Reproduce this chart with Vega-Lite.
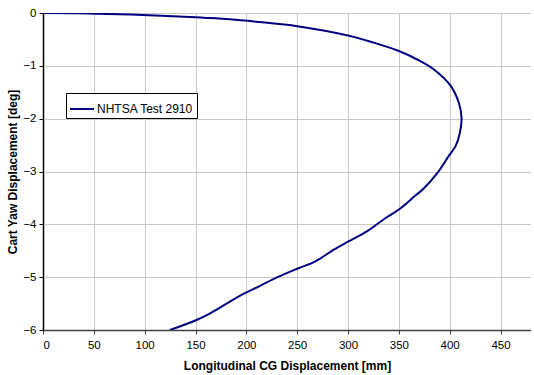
{
  "$schema": "https://vega.github.io/schema/vega-lite/v6.json",
  "width": 488,
  "height": 317,
  "autosize": "none",
  "padding": {"left": 43, "top": 13, "right": 0, "bottom": 45},
  "background": "white",
  "config": {
    "font": "Liberation Sans",
    "view": {"stroke": "#a0a0a0", "strokeWidth": 1}
  },
  "data": {
    "values": [
      {"i": 1, "x": 0, "y": 0, "s": "NHTSA Test 2910"},
      {"i": 2, "x": 35, "y": -0.005, "s": "NHTSA Test 2910"},
      {"i": 3, "x": 86, "y": -0.03, "s": "NHTSA Test 2910"},
      {"i": 4, "x": 128, "y": -0.06, "s": "NHTSA Test 2910"},
      {"i": 5, "x": 158, "y": -0.09, "s": "NHTSA Test 2910"},
      {"i": 6, "x": 184, "y": -0.12, "s": "NHTSA Test 2910"},
      {"i": 7, "x": 212, "y": -0.17, "s": "NHTSA Test 2910"},
      {"i": 8, "x": 250, "y": -0.25, "s": "NHTSA Test 2910"},
      {"i": 9, "x": 301, "y": -0.43, "s": "NHTSA Test 2910"},
      {"i": 10, "x": 325, "y": -0.56, "s": "NHTSA Test 2910"},
      {"i": 11, "x": 350, "y": -0.72, "s": "NHTSA Test 2910"},
      {"i": 12, "x": 368, "y": -0.88, "s": "NHTSA Test 2910"},
      {"i": 13, "x": 384.5, "y": -1.07, "s": "NHTSA Test 2910"},
      {"i": 14, "x": 401, "y": -1.38, "s": "NHTSA Test 2910"},
      {"i": 15, "x": 409, "y": -1.7, "s": "NHTSA Test 2910"},
      {"i": 16, "x": 411.7, "y": -1.99, "s": "NHTSA Test 2910"},
      {"i": 17, "x": 410, "y": -2.27, "s": "NHTSA Test 2910"},
      {"i": 18, "x": 405.8, "y": -2.52, "s": "NHTSA Test 2910"},
      {"i": 19, "x": 399, "y": -2.71, "s": "NHTSA Test 2910"},
      {"i": 20, "x": 387.8, "y": -3.03, "s": "NHTSA Test 2910"},
      {"i": 21, "x": 374, "y": -3.33, "s": "NHTSA Test 2910"},
      {"i": 22, "x": 366, "y": -3.46, "s": "NHTSA Test 2910"},
      {"i": 23, "x": 350, "y": -3.72, "s": "NHTSA Test 2910"},
      {"i": 24, "x": 337, "y": -3.88, "s": "NHTSA Test 2910"},
      {"i": 25, "x": 319, "y": -4.13, "s": "NHTSA Test 2910"},
      {"i": 26, "x": 301, "y": -4.32, "s": "NHTSA Test 2910"},
      {"i": 27, "x": 286, "y": -4.48, "s": "NHTSA Test 2910"},
      {"i": 28, "x": 268, "y": -4.7, "s": "NHTSA Test 2910"},
      {"i": 29, "x": 250, "y": -4.84, "s": "NHTSA Test 2910"},
      {"i": 30, "x": 230.6, "y": -5.0, "s": "NHTSA Test 2910"},
      {"i": 31, "x": 214, "y": -5.16, "s": "NHTSA Test 2910"},
      {"i": 32, "x": 194, "y": -5.35, "s": "NHTSA Test 2910"},
      {"i": 33, "x": 164, "y": -5.69, "s": "NHTSA Test 2910"},
      {"i": 34, "x": 151, "y": -5.81, "s": "NHTSA Test 2910"},
      {"i": 35, "x": 125, "y": -6.0, "s": "NHTSA Test 2910"}
    ]
  },
  "mark": {"type": "line", "strokeWidth": 2, "clip": true, "interpolate": "catmull-rom"},
  "encoding": {
    "x": {
      "field": "x", "type": "quantitative",
      "scale": {"domain": [0, 480], "nice": false, "zero": false},
      "axis": {
        "values": [0, 50, 100, 150, 200, 250, 300, 350, 400, 450],
        "title": "Longitudinal CG Displacement [mm]",
        "titleFont": "Liberation Sans", "titleFontSize": 12, "titleFontWeight": "bold",
        "titleColor": "black", "titlePadding": 10,
        "labelFont": "Liberation Sans", "labelFontSize": 11.5, "labelColor": "black",
        "labelPadding": 5,
        "domainColor": "#404040", "domainWidth": 1.5,
        "tickColor": "#404040", "tickSize": 4,
        "gridColor": "#c8c8c8", "gridWidth": 1
      }
    },
    "y": {
      "field": "y", "type": "quantitative",
      "scale": {"domain": [-6, 0], "nice": false, "zero": false},
      "axis": {
        "values": [0, -1, -2, -3, -4, -5, -6],
        "title": "Cart Yaw Displacement [deg]",
        "titleFont": "Liberation Sans", "titleFontSize": 12, "titleFontWeight": "bold",
        "titleColor": "black", "titlePadding": 3,
        "labelFont": "Liberation Sans", "labelFontSize": 11.5, "labelColor": "black",
        "labelPadding": 3,
        "domainColor": "black", "domainWidth": 1.5,
        "tickColor": "black", "tickSize": 4,
        "gridColor": "#c8c8c8", "gridWidth": 1
      }
    },
    "order": {"field": "i", "type": "quantitative"},
    "color": {
      "field": "s", "type": "nominal",
      "scale": {"range": ["#000080"]},
      "legend": {
        "title": null,
        "orient": "none",
        "legendX": 23,
        "legendY": 80,
        "symbolType": "stroke",
        "symbolStrokeWidth": 2,
        "symbolSize": 576,
        "labelFont": "Liberation Sans",
        "labelFontSize": 12,
        "labelColor": "black",
        "strokeColor": "black",
        "fillColor": "white",
        "padding": 3,
        "labelOffset": 2
      }
    }
  }
}
